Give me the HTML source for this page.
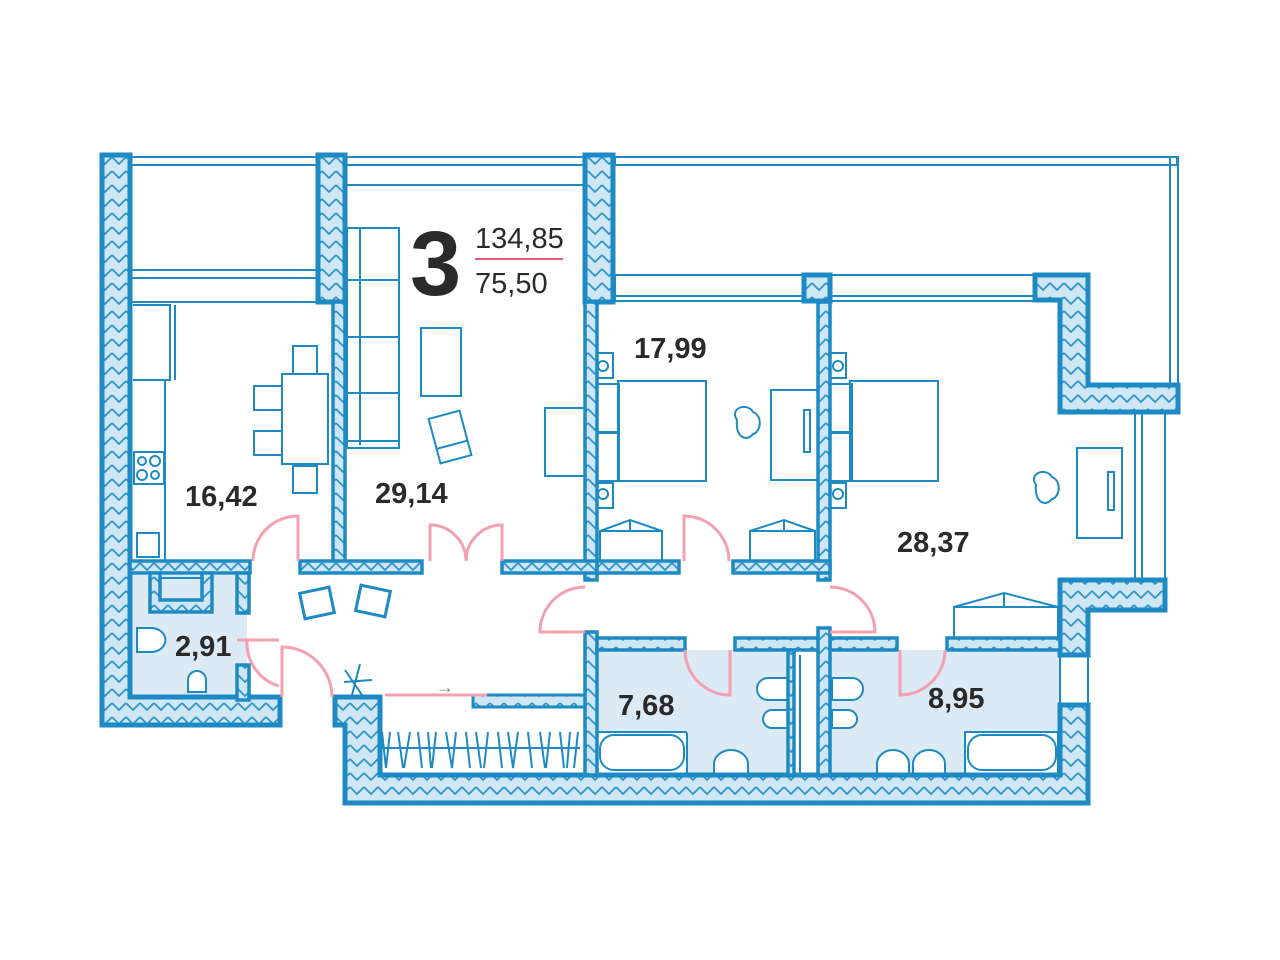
<!DOCTYPE html>
<html><head><meta charset="utf-8"><style>
html,body{margin:0;padding:0;background:#fff;width:1280px;height:960px;overflow:hidden}
svg{display:block}
.t{font-family:"Liberation Sans",sans-serif;fill:#2a2a2a;font-weight:bold}
</style></head><body>
<svg width="1280" height="960" viewBox="0 0 1280 960" xmlns="http://www.w3.org/2000/svg">
<defs>
<pattern id="h" width="14" height="14" patternUnits="userSpaceOnUse">
<rect width="14" height="14" fill="#cfe6f4"/>
<polyline points="0,3 7,10 14,3" fill="none" stroke="#2f93cc" stroke-width="1.8"/>
</pattern>
</defs>
<g fill="#dbeaf5">
<rect x="130" y="575" width="117" height="122"/>
<rect x="597" y="650" width="195" height="125"/>
<rect x="830" y="650" width="230" height="125"/>
</g>
<g fill="none" stroke="#1e8ac4" stroke-width="2">
<rect x="130" y="157" width="188" height="8"/>
<rect x="130" y="270" width="188" height="8"/>
<line x1="130" y1="302" x2="318" y2="302"/>
<rect x="345" y="157" width="240" height="8"/>
<line x1="345" y1="185" x2="585" y2="185"/>
<rect x="615" y="157" width="562" height="8"/>
<rect x="1170" y="157" width="8" height="250"/>
<rect x="615" y="275" width="188" height="26"/>
<line x1="615" y1="296" x2="803" y2="296"/>
<rect x="830" y="275" width="205" height="26"/>
<line x1="830" y1="296" x2="1035" y2="296"/>
<rect x="1135" y="412" width="30" height="173"/>
<line x1="1142" y1="412" x2="1142" y2="585"/>
<rect x="1060" y="655" width="28" height="50"/>
<polyline points="133,305 170,305 170,380 133,380"/>
<line x1="175" y1="305" x2="175" y2="380"/>
<line x1="165" y1="380" x2="165" y2="560"/>
<rect x="134" y="452" width="30" height="32"/>
<circle cx="142" cy="461" r="4"/><circle cx="155" cy="461" r="5"/><circle cx="142" cy="475" r="5"/><circle cx="155" cy="475" r="4"/>
<rect x="137" y="533" width="22" height="24"/>
<rect x="282" y="374" width="46" height="90"/>
<rect x="293" y="346" width="24" height="28"/><rect x="293" y="466" width="24" height="27"/>
<rect x="254" y="386" width="28" height="24"/><rect x="254" y="431" width="28" height="24"/>
<rect x="347" y="228" width="52" height="220"/>
<line x1="360" y1="228" x2="360" y2="445"/>
<line x1="347" y1="280" x2="399" y2="280"/><line x1="347" y1="337" x2="399" y2="337"/><line x1="347" y1="393" x2="399" y2="393"/>
<line x1="347" y1="441" x2="399" y2="441"/>
<rect x="421" y="328" width="40" height="68"/>
<g transform="rotate(-15 450 437)"><rect x="434" y="414" width="32" height="46"/><line x1="434" y1="445" x2="466" y2="445"/></g>
<rect x="545" y="408" width="40" height="68"/>
<rect x="597" y="353" width="16" height="25"/><circle cx="603" cy="366" r="5"/>
<rect x="597" y="483" width="16" height="25"/><circle cx="603" cy="494" r="5"/>
<rect x="618" y="381" width="88" height="100"/>
<rect x="597" y="384" width="22" height="48"/><rect x="597" y="433" width="22" height="48"/>
<path d="M737,420 c-8,-12 10,-18 16,-8 c10,4 8,20 0,22 c-6,8 -18,4 -16,-14z"/>
<rect x="771" y="390" width="47" height="90"/>
<rect x="804" y="410" width="6" height="42"/>
<rect x="600" y="531" width="62" height="30"/><polyline points="600,531 630,520 662,531"/><line x1="630" y1="520" x2="630" y2="531"/>
<rect x="750" y="531" width="65" height="30"/><polyline points="750,531 784,520 815,531"/><line x1="784" y1="520" x2="784" y2="531"/>
<rect x="830" y="353" width="16" height="25"/><circle cx="838" cy="366" r="5"/>
<rect x="830" y="483" width="16" height="25"/><circle cx="838" cy="494" r="5"/>
<rect x="850" y="381" width="88" height="100"/>
<rect x="830" y="384" width="22" height="48"/><rect x="830" y="433" width="22" height="48"/>
<path d="M1036,485 c-8,-12 10,-18 16,-8 c10,4 8,20 0,22 c-6,8 -18,4 -16,-14z"/>
<rect x="1077" y="448" width="45" height="90"/>
<rect x="1108" y="472" width="6" height="38"/>
<rect x="954" y="607" width="104" height="33"/><polyline points="954,607 1004,593 1058,607"/><line x1="1004" y1="593" x2="1004" y2="607"/>
<rect x="160" y="578" width="42" height="26"/>
<path d="M137,628 h14 a12,10 0 0 1 0,24 h-14z" fill="#fff"/>
<path d="M188,692 v-12 a9,9 0 0 1 18,0 v12z" fill="#fff"/>
<rect x="597" y="732" width="90" height="42" rx="2" fill="#fff"/><rect x="600" y="735" width="84" height="35" rx="14"/>
<path d="M714,774 v-10 a17,14 0 0 1 34,0 v10z" fill="#fff"/>
<path d="M788,678 h-20 a10,10 0 0 0 0,22 h20z" fill="#fff"/>
<path d="M788,710 h-16 a8,8 0 0 0 0,18 h16z" fill="#fff"/>
<path d="M832,678 h20 a10,10 0 0 1 0,22 h-20z" fill="#fff"/>
<path d="M832,710 h16 a8,8 0 0 1 0,18 h-16z" fill="#fff"/>
<path d="M877,774 v-10 a16,14 0 0 1 32,0 v10z" fill="#fff"/>
<path d="M913,774 v-10 a16,14 0 0 1 32,0 v10z" fill="#fff"/>
<rect x="965" y="732" width="93" height="42" fill="#fff"/><rect x="968" y="735" width="88" height="35" rx="14"/>
<rect x="302" y="590" width="30" height="26" transform="rotate(-12 317 603)" stroke-width="3"/>
<rect x="358" y="588" width="30" height="26" transform="rotate(12 373 601)" stroke-width="3"/>
<line x1="345" y1="670" x2="362" y2="695"/><line x1="360" y1="664" x2="352" y2="695"/><line x1="344" y1="682" x2="372" y2="680"/>
<line x1="380" y1="748" x2="580" y2="748"/>
<path d="M382,732 l4,36 M390,732 l-4,36 M398,732 l5,36 M410,732 l-6,36 M418,732 l4,36 M428,732 l3,36 M436,732 l-4,36 M446,732 l6,36 M456,732 l-4,36 M466,732 l4,36 M476,732 l5,36 M488,732 l-4,36 M498,732 l4,36 M508,732 l5,36 M518,732 l-5,36 M528,732 l4,36 M540,732 l5,36 M550,732 l-4,36 M560,732 l4,36 M570,732 l-3,36 M578,732 l-4,36"/>
<line x1="800" y1="655" x2="800" y2="775"/>
</g>
<g fill="url(#h)" stroke="#1e8ac4" stroke-width="5" stroke-linejoin="miter">
<polygon points="102,155 130,155 130,697 280,697 280,725 102,725"/>
<rect x="318" y="155" width="27" height="147"/>
<rect x="585" y="155" width="28" height="147"/>
<rect x="804" y="275" width="26" height="26"/>
<polygon points="1035,275 1088,275 1088,385 1178,385 1178,412 1060,412 1060,300 1035,300"/>
<polygon points="335,697 380,697 380,775 1060,775 1060,705 1088,705 1088,803 345,803 345,725 335,725"/>
<polygon points="1060,580 1165,580 1165,610 1088,610 1088,655 1060,655"/>
<polygon points="473,695 585,695 585,632 597,632 597,707 473,707" stroke-width="3"/>
</g>
<g fill="url(#h)" stroke="#1e8ac4" stroke-width="3.5">
<rect x="333" y="302" width="12" height="265"/>
<rect x="585" y="302" width="12" height="278"/>
<rect x="818" y="302" width="12" height="278"/>
<rect x="130" y="561" width="120" height="12"/>
<rect x="237" y="573" width="12" height="40"/>
<rect x="237" y="665" width="12" height="35"/>
<polygon points="150,573 160,573 160,600 202,600 202,573 212,573 212,612 150,612"/>
<rect x="300" y="561" width="122" height="12"/>
<rect x="502" y="561" width="95" height="12"/>
<rect x="597" y="561" width="82" height="12"/>
<rect x="733" y="561" width="97" height="12"/>
<rect x="585" y="632" width="12" height="143"/>
<rect x="597" y="638" width="88" height="12"/>
<rect x="735" y="638" width="95" height="12"/>
<rect x="830" y="638" width="67" height="12"/>
<rect x="947" y="638" width="113" height="12"/>
<rect x="818" y="628" width="12" height="147"/>
<rect x="788" y="650" width="6" height="125"/>
</g>
<g fill="none" stroke="#f3a0b0" stroke-width="3">
<path d="M298,561 v-45 a45,45 0 0 0 -45,45"/>
<path d="M430,561 v-36 a36,36 0 0 1 36,36 a36,36 0 0 1 36,-36 v36"/>
<path d="M684,561 v-45 a45,45 0 0 1 45,45"/>
<path d="M585,632 h-45 a45,45 0 0 1 45,-45"/>
<path d="M830,632 h45 a45,45 0 0 0 -45,-45"/>
<path d="M685,650 a45,45 0 0 0 45,45 v-45"/>
<path d="M945,650 a45,45 0 0 1 -45,45 v-45"/>
<path d="M247,640 a45,45 0 0 0 32,46"/>
<line x1="237" y1="640" x2="279" y2="640"/>
<path d="M282,697 v-50 a50,50 0 0 1 50,50"/>
<line x1="385" y1="695" x2="487" y2="695"/>
</g>
<text x="436" y="693" font-family="Liberation Sans,sans-serif" font-size="18" fill="#888">→</text>
<text class="t" x="410" y="295" font-size="92">3</text>
<text class="t" x="475" y="248" font-size="29" style="font-weight:normal">134,85</text>
<line x1="475" y1="259" x2="563" y2="259" stroke="#e8587a" stroke-width="2"/>
<text class="t" x="475" y="293" font-size="29" style="font-weight:normal">75,50</text>
<g font-size="29">
<text class="t" x="185" y="506">16,42</text>
<text class="t" x="375" y="503">29,14</text>
<text class="t" x="634" y="358">17,99</text>
<text class="t" x="897" y="552">28,37</text>
<text class="t" x="175" y="656">2,91</text>
<text class="t" x="618" y="715">7,68</text>
<text class="t" x="928" y="708">8,95</text>
</g>
</svg>
</body></html>
